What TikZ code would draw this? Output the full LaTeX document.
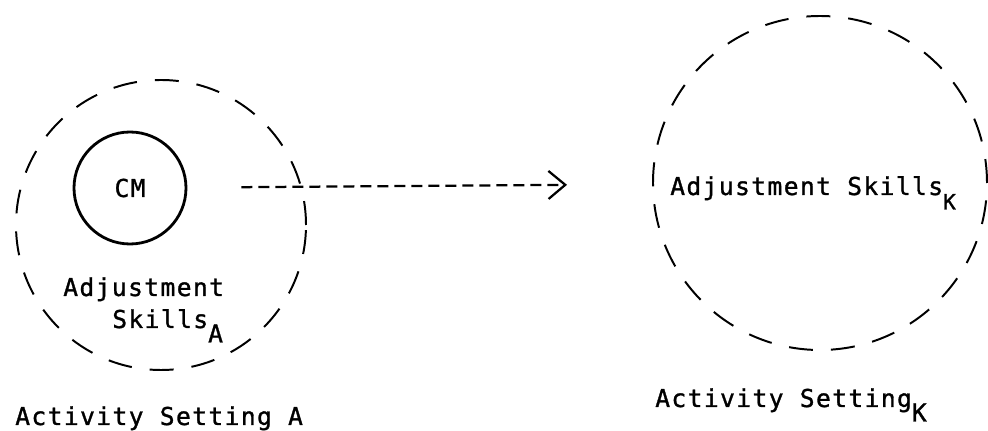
\documentclass[tikz,border=0pt]{standalone}
\usepackage{fontspec}
\newfontfamily\typer{DejaVu Sans Mono}[LetterSpace=5.7,FakeBold=1.2]
\usetikzlibrary{arrows.meta}
% lowered index letter, typewriter style
\newcommand{\lowsub}[1]{\raisebox{-0.36cm}{#1}}
\begin{document}
\begin{tikzpicture}[every node/.style={font=\typer\fontsize{17.5}{20}\selectfont},
  setting/.style={draw,circle,line width=1.4pt,dash pattern=on 0.6cm off 0.45cm,inner sep=0pt},
  core/.style={draw,circle,line width=2pt,inner sep=0pt,minimum size=2.8cm},
  label/.style={anchor=base west,inner sep=0pt},
  flow/.style={line width=1.6pt,dash pattern=on 0.275cm off 0.15cm,-{Straight Barb[length=0.42cm,width=0.7cm]}}]
\useasboundingbox (0,0) rectangle (24.7,-10.775);
% Activity setting A with CM inside
\node[setting,minimum size=7.25cm] (settingA) at (4.025,-5.625) {};
\node[core] (cm) at (3.25,-4.7) {CM};
\node[label] (adjA) at (1.575,-7.4) {Adjustment};
\node[label] (skillsA) at (2.8,-8.2) {Skills\lowsub{A}};
\node[label] (nameA) at (0.375,-10.625) {Activity Setting A};
% Activity setting K
\node[setting,minimum size=8.35cm] (settingK) at (20.5,-4.575) {};
\node[label] (adjK) at (16.75,-4.875) {Adjustment Skills\lowsub{\fontsize{15}{17}\selectfont K}};
\node[label] (nameK) at (16.375,-10.175) {Activity Setting\lowsub{K}};
% transfer
\draw[flow,shorten <=1.35cm,shorten >=2.125cm] (cm) -- (settingK);
\end{tikzpicture}
\end{document}
